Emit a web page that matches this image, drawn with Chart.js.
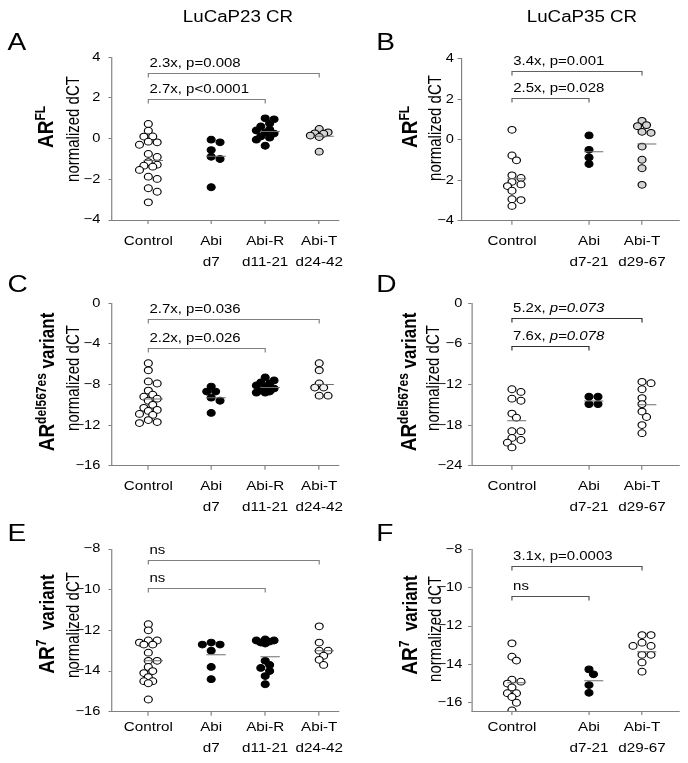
<!DOCTYPE html>
<html>
<head>
<meta charset="utf-8">
<script src="https://cdn.jsdelivr.net/npm/chart.js@4.4.1/dist/chart.umd.min.js"></script>
<style>
  html, body { margin: 0; padding: 0; background: #fff; }
  #page { position: relative; width: 688px; height: 763px; overflow: hidden; }
  #page canvas { position: absolute; }
  #labels {
    position: absolute; left: 0; top: 0; width: 588px; height: 763px;
    transform: scaleX(1.17); transform-origin: 0 0;
    font-family: 'Liberation Sans', Arial, sans-serif; color: #000;
  }
  .t { position: absolute; white-space: nowrap; line-height: 1; }
  .title { font-size: 16px; transform: translateX(-50%); }
  .letter { font-size: 24px; }
  .rot { position: absolute; white-space: nowrap; line-height: 1; transform: translate(-50%, -50%) rotate(-90deg); }
  .big { font-size: 19px; font-weight: bold; }
  .var { font-size: 17px; }
  .sup { font-size: 12px; position: relative; top: -7px; }
  .norm { font-size: 15px; }
</style>
</head>
<body>
<div id="page">
  <div id="labels">
    <div class="t title" style="left:203.4px; top:9px">LuCaP23 CR</div>
    <div class="t title" style="left:497.4px; top:9px">LuCaP35 CR</div>

    <div class="t letter" style="left:6.5px; top:30px">A</div>
    <div class="t letter" style="left:321.5px; top:30px">B</div>
    <div class="t letter" style="left:6.5px; top:272px">C</div>
    <div class="t letter" style="left:321.5px; top:272px">D</div>
    <div class="t letter" style="left:6.5px; top:521px">E</div>
    <div class="t letter" style="left:321.5px; top:521px">F</div>

    <div class="rot big" style="left:39px; top:127px">AR<span class="sup">FL</span></div>
    <div class="rot norm" style="left:62.4px; top:129px">normalized dCT</div>
    <div class="rot big" style="left:350.4px; top:127px">AR<span class="sup">FL</span></div>
    <div class="rot norm" style="left:370.9px; top:128px">normalized dCT</div>

    <div class="rot big" style="left:39.7px; top:382px">AR<span class="sup">del567es</span><span class="var"> variant</span></div>
    <div class="rot norm" style="left:61.5px; top:378px">normalized dCT</div>
    <div class="rot big" style="left:348.7px; top:382px">AR<span class="sup">del567es</span><span class="var"> variant</span></div>
    <div class="rot norm" style="left:370.1px; top:378px">normalized dCT</div>

    <div class="rot big" style="left:39.7px; top:624px">AR<span class="sup">7</span><span class="var">&nbsp; variant</span></div>
    <div class="rot norm" style="left:61.5px; top:625px">normalized dCT</div>
    <div class="rot big" style="left:349.6px; top:625px">AR<span class="sup">7</span><span class="var">&nbsp; variant</span></div>
    <div class="rot norm" style="left:370.9px; top:629px">normalized dCT</div>
  </div>
</div>

<script>
const SX = 1.17
const FONT = "'Liberation Sans', Arial, sans-serif"

// groups and x labels
const groups23 = ['Control', 'Abi', 'Abi-R', 'Abi-T']
const days23 = ['', 'd7', 'd11-21', 'd24-42']
const groups35 = ['Control', 'Abi', 'Abi-T']
const days35 = ['', 'd7-21', 'd29-67']

// y tick labels
const ticksFL = [-4, -2, 0, 2, 4]
const ticksDel23 = [-16, -12, -8, -4, 0]
const ticksDel35 = [-24, -18, -12, -6, 0]
const ticksAR7 = [-16, -14, -12, -10, -8]

// A: AR-FL, LuCaP23 CR
const flControl23 = [0.72, 0.39, 0.11, 0.1, -0.15, -0.18, -0.3, -0.75, -0.9, -1.15, -1.28, -1.33, -1.38, -1.54, -1.87, -1.98, -2.44, -2.61, -3.13]
const flAbi23 = [-0.05, -0.18, -0.56, -0.89, -1.0, -2.39]
const flAbiR23 = [1.0, 0.95, 0.75, 0.6, 0.45, 0.4, 0.3, 0.25, 0.1, 0.05, -0.05, -0.35]
const flAbiT23 = [0.48, 0.31, 0.26, 0.24, 0.15, 0.08, -0.64]
const flMedians23 = [-1.07, -0.87, 0.35, 0.12]

// B: AR-FL, LuCaP35 CR
const flControl35 = [0.49, -0.78, -1.02, -1.76, -1.89, -2.08, -2.21, -2.29, -2.52, -2.94, -2.98, -3.27]
const flAbi35 = [0.21, -0.5, -0.88, -1.2]
const flAbiT35 = [0.93, 0.72, 0.67, 0.39, 0.34, -0.34, -0.99, -1.41, -2.23]
const flMedians35 = [-1.93, -0.6, -0.21]

// C: AR del567es, LuCaP23 CR
const delControl23 = [-5.9, -6.6, -7.7, -7.9, -8.6, -9.0, -9.2, -9.4, -9.6, -10.0, -10.3, -10.5, -10.6, -10.9, -11.0, -11.5, -11.7, -11.8]
const delAbi23 = [-8.2, -8.7, -8.7, -9.3, -9.6, -10.8]
const delAbiR23 = [-7.3, -7.6, -7.8, -7.9, -8.1, -8.3, -8.4, -8.6, -8.7, -8.8, -8.8]
const delAbiT23 = [-5.9, -6.6, -7.9, -8.3, -8.3, -9.1, -9.1]
const delMedians23 = [-9.44, -9.3, -8.3, -8.0]

// D: AR del567es, LuCaP35 CR
const delControl35 = [-12.7, -13.1, -14.1, -14.4, -16.3, -16.9, -18.9, -18.9, -19.9, -20.2, -20.6, -21.3]
const delAbi35 = [-13.8, -13.8, -14.9, -14.9]
const delAbiT35 = [-11.6, -11.8, -12.7, -14.0, -14.9, -16.0, -16.8, -18.0, -19.2]
const delMedians35 = [-17.34, -14.43, -15.0]

// E: AR7, LuCaP23 CR
const ar7Control23 = [-11.7, -12.0, -12.5, -12.5, -12.6, -12.7, -12.7, -13.1, -13.5, -13.5, -13.8, -14.0, -14.1, -14.3, -14.5, -14.5, -14.6, -15.4]
const ar7Abi23 = [-12.6, -12.7, -12.7, -13.0, -13.8, -14.4]
const ar7AbiR23 = [-12.45, -12.5, -12.5, -12.55, -12.6, -12.65, -13.5, -13.7, -13.85, -14.0, -14.25, -14.65]
const ar7AbiT23 = [-11.8, -12.6, -13.0, -13.0, -13.25, -13.45, -13.7]
const ar7Medians23 = [-13.5, -13.2, -13.3, -13.0]

// F: AR7, LuCaP35 CR
const ar7Control35 = [-12.9, -13.6, -13.8, -14.8, -14.9, -15.0, -15.2, -15.5, -15.5, -15.7, -16.0, -16.4]
const ar7Abi35 = [-14.26, -14.52, -15.08, -15.48]
const ar7AbiT35 = [-12.47, -12.47, -12.87, -13.04, -13.04, -13.5, -13.5, -13.9, -14.38]
const ar7Medians35 = [-14.96, -14.85, -13.34]

// significance brackets: target group index, bracket level, label
const bracketsA = [
  { to: 3, level: 3.22, text: '2.3x, p=0.008' },
  { to: 2, level: 1.97, text: '2.7x, p<0.0001' }
]
const bracketsB = [
  { to: 2, level: 3.39, text: '3.4x, p=0.001' },
  { to: 1, level: 2.04, text: '2.5x, p=0.028' }
]
const bracketsC = [
  { to: 3, level: -1.58, text: '2.7x, p=0.036' },
  { to: 2, level: -4.37, text: '2.2x, p=0.026' }
]
const bracketsD = [
  { to: 2, level: -2.2, text: '5.2x, ', italic: 'p=0.073' },
  { to: 1, level: -6.26, text: '7.6x, ', italic: 'p=0.078' }
]
const bracketsE = [
  { to: 3, level: -8.54, text: 'ns' },
  { to: 2, level: -9.9, text: 'ns' }
]
const bracketsF = [
  { to: 2, level: -8.85, text: '3.1x, p=0.0003' },
  { to: 1, level: -10.42, text: 'ns' }
]

// layout: category slots along the linear x axis
const slots23 = [0, 1.164, 2.164, 3.164]
const slots35 = [0, 1.453, 2.453]

const panels = [
  { left: 0, top: 0, h: 285, groups: groups23, days: days23, slots: slots23, xMin: -0.673, xMax: 3.527, unitPx: 55,
    series: [flControl23, flAbi23, flAbiR23, flAbiT23], medians: flMedians23, fills: ['#ffffff', '#000000', '#000000', '#d4d4d4'],
    ticks: ticksFL, yMin: -4, yMax: 4, plotTop: 57.3, plotBottom: 220, axisX: 95.7, padRight: 0.8, yPad: 7, xPad: 6.5,
    brackets: bracketsA, bracketColor: '#808080' },
  { left: 344, top: 0, h: 285, groups: groups35, days: days35, slots: slots35, xMin: -0.962, xMax: 3.15, unitPx: 53,
    series: [flControl35, flAbi35, flAbiT35], medians: flMedians35, fills: ['#ffffff', '#000000', '#d4d4d4'],
    ticks: ticksFL, yMin: -4, yMax: 4, plotTop: 58.7, plotBottom: 220.7, axisX: 100, padRight: 7.7, yPad: 3, xPad: 6.5,
    brackets: bracketsB, bracketColor: '#606060' },
  { left: 0, top: 250, h: 285, groups: groups23, days: days23, slots: slots23, xMin: -0.673, xMax: 3.527, unitPx: 55,
    series: [delControl23, delAbi23, delAbiR23, delAbiT23], medians: delMedians23, fills: ['#ffffff', '#000000', '#000000', '#f2f2f2'],
    ticks: ticksDel23, yMin: -16, yMax: 0, plotTop: 53.3, plotBottom: 215.7, axisX: 95.7, padRight: 0.8, yPad: 7, xPad: 6.5,
    brackets: bracketsC, bracketColor: '#808080' },
  { left: 344, top: 250, h: 285, groups: groups35, days: days35, slots: slots35, xMin: -0.76, xMax: 3.15, unitPx: 53,
    series: [delControl35, delAbi35, delAbiT35], medians: delMedians35, fills: ['#ffffff', '#000000', '#ffffff'],
    ticks: ticksDel35, yMin: -24, yMax: 0, plotTop: 53.3, plotBottom: 215.7, axisX: 109.1, padRight: 7.7, yPad: 5, xPad: 6.5,
    brackets: bracketsD, bracketColor: '#303030' },
  { left: 0, top: 500, h: 263, groups: groups23, days: days23, slots: slots23, xMin: -0.673, xMax: 3.527, unitPx: 55,
    series: [ar7Control23, ar7Abi23, ar7AbiR23, ar7AbiT23], medians: ar7Medians23, fills: ['#ffffff', '#000000', '#000000', '#ffffff'],
    ticks: ticksAR7, yMin: -16, yMax: -8, plotTop: 49, plotBottom: 211.7, axisX: 95.7, padRight: 0.8, yPad: 7, xPad: 1.5,
    brackets: bracketsE, bracketColor: '#808080' },
  { left: 344, top: 500, h: 263, groups: groups35, days: days35, slots: slots35, xMin: -0.76, xMax: 3.15, unitPx: 53,
    series: [ar7Control35, ar7Abi35, ar7AbiT35], medians: ar7Medians35, fills: ['#ffffff', '#000000', '#ffffff'],
    ticks: ticksAR7, yMin: -16.43, yMax: -8, plotTop: 49.3, plotBottom: 211, axisX: 109.1, padRight: 7.7, yPad: 5, xPad: 1.5,
    brackets: bracketsF, bracketColor: '#505050' }
]

// spread points sideways in a narrow swarm (at most two steps either side)
function swarm(values, yPx, unitPx) {
  const placed = []
  const d = 5.8
  const step = 4.5
  const candidates = [0, 1, -1, 2, -2].map(k => k * step)
  return values.map(v => {
    const y = v * yPx
    let best = 0
    let bestDist = -1
    for (const off of candidates) {
      const dist = placed.length ? Math.min(...placed.map(p => Math.hypot(p.x - off, p.y - y))) : Infinity
      if (dist >= d) { best = off; bestDist = dist; break }
      if (dist > bestDist) { best = off; bestDist = dist }
    }
    placed.push({ x: best, y })
    return best / unitPx
  })
}

const stretchPlugin = {
  id: 'stretch',
  beforeDraw(chart) {
    chart.ctx.setTransform(SX, 0, 0, 1, 0, 0)
  }
}

const bracketPlugin = {
  id: 'brackets',
  afterDatasetsDraw(chart, args, opts) {
    const { ctx, scales: { x, y } } = chart
    ctx.save()
    ctx.lineWidth = 1
    ctx.strokeStyle = opts.color
    ctx.fillStyle = '#000'
    ctx.textBaseline = 'alphabetic'
    opts.items.forEach(b => {
      const x0 = x.getPixelForValue(opts.slots[0])
      const x1 = x.getPixelForValue(opts.slots[b.to])
      const yy = Math.round(y.getPixelForValue(b.level)) + 0.5
      ctx.beginPath()
      ctx.moveTo(x0, yy + 4)
      ctx.lineTo(x0, yy)
      ctx.lineTo(x1, yy)
      ctx.lineTo(x1, yy + 4)
      ctx.stroke()
      ctx.font = '12.8px ' + FONT
      ctx.fillText(b.text, x0 + 1, yy - 6.5)
      if (b.italic) {
        const w = ctx.measureText(b.text).width
        ctx.font = 'italic 12.8px ' + FONT
        ctx.fillText(b.italic, x0 + 1 + w, yy - 6.5)
      }
    })
    ctx.restore()
  }
}

const page = document.getElementById('page')

panels.forEach(p => {
  const logicalW = Math.round(344 / SX)
  const canvas = document.createElement('canvas')
  canvas.width = logicalW
  canvas.height = p.h
  canvas.style.left = p.left + 'px'
  canvas.style.top = p.top + 'px'
  canvas.style.width = '344px'
  canvas.style.height = p.h + 'px'
  page.insertBefore(canvas, page.firstChild)

  const yPx = (p.plotBottom - p.plotTop) / (p.yMax - p.yMin)
  const xLabels = p.groups.map((g, i) => p.days[i] ? [g, p.days[i]] : g)

  const medianSets = p.medians.map((m, i) => ({
    order: 0,
    showLine: true,
    data: [{ x: p.slots[i] - 0.09, y: m }, { x: p.slots[i] + 0.27, y: m }],
    borderColor: '#6e6e6e',
    borderWidth: 1,
    pointRadius: 0,
    pointHoverRadius: 0
  }))

  const pointSets = p.series.map((vals, i) => {
    const offs = swarm(vals, yPx, p.unitPx)
    return {
      order: 1,
      label: p.groups[i],
      data: vals.map((v, j) => ({ x: p.slots[i] + offs[j], y: v })),
      backgroundColor: p.fills[i],
      borderColor: '#000000',
      borderWidth: 1,
      pointRadius: 3.4,
      pointHoverRadius: 3.4
    }
  })

  const chart = new Chart(canvas.getContext('2d'), {
    type: 'scatter',
    data: { datasets: [...medianSets, ...pointSets] },
    options: {
      responsive: false,
      animation: false,
      events: [],
      devicePixelRatio: 1,
      layout: {
        padding: { left: p.axisX - 40, right: p.padRight, top: p.plotTop, bottom: 0 }
      },
      plugins: {
        legend: { display: false },
        tooltip: { enabled: false },
        brackets: { items: p.brackets, slots: p.slots, color: p.bracketColor }
      },
      scales: {
        x: {
          type: 'linear',
          min: p.xMin,
          max: p.xMax,
          afterBuildTicks: s => { s.ticks = p.slots.map(v => ({ value: v })) },
          afterFit: s => { s.height = p.h - p.plotBottom; s.paddingLeft = 0; s.paddingRight = 0 },
          grid: { drawOnChartArea: false, drawTicks: true, tickLength: 4, color: '#808080' },
          border: { color: '#808080', width: 1 },
          ticks: {
            autoSkip: false,
            maxRotation: 0,
            padding: p.xPad,
            color: '#000',
            font: { family: FONT, size: 13, lineHeight: 1.615 },
            callback: (v, i) => xLabels[i]
          }
        },
        y: {
          min: p.yMin,
          max: p.yMax,
          afterBuildTicks: s => { s.ticks = p.ticks.map(v => ({ value: v })) },
          afterFit: s => { s.width = 40; s.paddingTop = 0; s.paddingBottom = 0 },
          grid: { drawOnChartArea: false, drawTicks: true, tickLength: 3, color: '#808080' },
          border: { color: '#808080', width: 1 },
          ticks: {
            padding: p.yPad,
            color: '#000',
            font: { family: FONT, size: 12.5 },
            callback: v => v < 0 ? '\u2212' + Math.abs(v) : String(v)
          }
        }
      }
    },
    plugins: [stretchPlugin, bracketPlugin]
  })

  // widen the bitmap to its on-page size and redraw with the horizontal stretch
  canvas.width = 344
  chart.draw()
})
</script>
</body>
</html>
